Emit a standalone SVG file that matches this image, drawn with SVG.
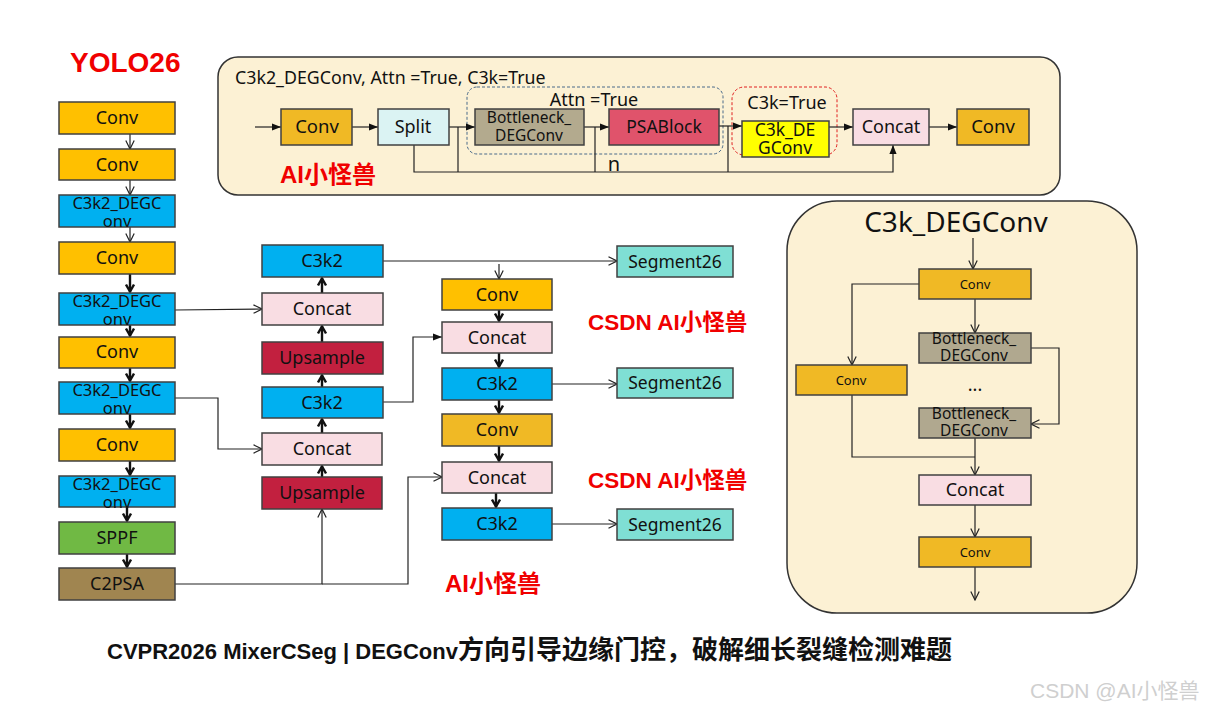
<svg xmlns="http://www.w3.org/2000/svg" width="1213" height="712" viewBox="0 0 1213 712">
<style>
.t{font-family:"Noto Sans","Liberation Sans","Noto Sans CJK SC",sans-serif;font-size:18px;fill:#111;text-anchor:middle}
.m{font-size:17.5px}
.w{font-size:16.5px}
.s{font-size:15px}
.xs{font-size:13px}
.b{stroke:#404040;stroke-width:1.5}
.conv{fill:#FFC000}
.conv2{fill:#F0B925}
.blue{fill:#00B0F0}
.pink{fill:#F9DDE3}
.ups{fill:#C2203F}
.seg{fill:#7FDFD4}
.bot{fill:#B3AA8E}
.red{font-family:"Liberation Sans","Noto Sans CJK SC",sans-serif;font-weight:bold;fill:#F00000}
.ln{fill:none;stroke:#222;stroke-width:1.2}
.lt{fill:none;stroke:#111;stroke-width:2.4}
.panel{fill:#FCF1D4;stroke:#333;stroke-width:1.5}
</style>
<defs>
<marker id="ao" viewBox="0 0 10 10" refX="9.5" refY="5" markerWidth="10" markerHeight="10" markerUnits="userSpaceOnUse" orient="auto"><path d="M1,0.8 L9.5,5 L1,9.2" fill="none" stroke="#222" stroke-width="1.2"/></marker>
<marker id="at" viewBox="0 0 10 10" refX="9" refY="5" markerWidth="10" markerHeight="10" markerUnits="userSpaceOnUse" orient="auto"><path d="M1.5,1 L8.5,5 L1.5,9" fill="none" stroke="#111" stroke-width="2.4"/></marker>
<marker id="af" viewBox="0 0 10 10" refX="10" refY="5" markerWidth="9" markerHeight="9" markerUnits="userSpaceOnUse" orient="auto"><path d="M0,1 L10,5 L0,9Z" fill="#111"/></marker>
</defs>
<rect width="1213" height="712" fill="#fff"/>

<!-- panels -->
<rect class="panel" x="218" y="57" width="842" height="138" rx="20"/>
<rect class="panel" x="787" y="201" width="350" height="412" rx="50"/>
<rect x="467" y="87" width="256" height="67" rx="10" fill="none" stroke="#4A6A8A" stroke-width="1" stroke-dasharray="3,2"/>
<rect x="732" y="87" width="105" height="68" rx="12" fill="none" stroke="#E02020" stroke-width="1" stroke-dasharray="3,2"/>

<!-- texts -->
<text class="red" x="70" y="72" font-size="28">YOLO26</text>
<text class="t m" x="235" y="84" style="text-anchor:start;font-size:17.8px">C3k2_DEGConv, Attn =True, C3k=True</text>
<text class="t" x="594" y="106">Attn =True</text>
<text class="t" x="787" y="109">C3k=True</text>
<text class="t" x="614" y="171" style="font-size:20px">n</text>
<text class="red" x="280" y="183" font-size="24">AI小怪兽</text>
<text class="red" x="588" y="330" font-size="22.5">CSDN AI小怪兽</text>
<text class="red" x="588" y="488" font-size="22.5">CSDN AI小怪兽</text>
<text class="red" x="445" y="592" font-size="24">AI小怪兽</text>
<text class="t" x="956" y="232" style="font-size:28px">C3k_DEGConv</text>
<text class="t" x="975" y="391">...</text>
<text x="107" y="659" font-family="Liberation Sans,Noto Sans CJK SC,sans-serif" font-weight="bold" font-size="22" fill="#111">CVPR2026 MixerCSeg | DEGConv<tspan font-family="Noto Sans CJK SC,sans-serif" font-size="26">方向引导边缘门控，破解细长裂缝检测难题</tspan></text>
<text x="1030" y="698" font-family="Liberation Sans,Noto Sans CJK SC,sans-serif" font-size="21" fill="#CFCFCF">CSDN @AI小怪兽</text>

<!-- connectors -->
<g id="connectors">
<!-- left column -->
<line class="ln" x1="130" y1="134" x2="130" y2="149" marker-end="url(#ao)"/>
<line class="ln" x1="130" y1="180" x2="130" y2="195" marker-end="url(#ao)"/>
<line class="ln" x1="130" y1="227" x2="130" y2="242" marker-end="url(#ao)"/>
<line class="lt" x1="130" y1="274" x2="130" y2="292" marker-end="url(#at)"/>
<line class="lt" x1="130" y1="325" x2="130" y2="336" marker-end="url(#at)"/>
<line class="lt" x1="130" y1="368" x2="130" y2="381" marker-end="url(#at)"/>
<line class="lt" x1="130" y1="414" x2="130" y2="428" marker-end="url(#at)"/>
<line class="lt" x1="130" y1="461" x2="130" y2="475" marker-end="url(#at)"/>
<line class="lt" x1="127" y1="507" x2="127" y2="521" marker-end="url(#at)"/>
<line class="lt" x1="127" y1="554" x2="127" y2="567" marker-end="url(#at)"/>
<!-- left to middle -->
<polyline class="ln" points="175,310 262,309" marker-end="url(#ao)"/>
<polyline class="ln" points="175,398 218,398 218,449 262,449" marker-end="url(#ao)"/>
<polyline class="ln" points="175,584 322,584 322,509" marker-end="url(#ao)"/>
<polyline class="ln" points="322,584 408,584 408,477 442,477" marker-end="url(#ao)"/>
<!-- middle up -->
<line class="lt" x1="322" y1="477" x2="322" y2="466" marker-end="url(#at)"/>
<line class="lt" x1="322" y1="433" x2="322" y2="419" marker-end="url(#at)"/>
<line class="lt" x1="322" y1="387" x2="322" y2="375" marker-end="url(#at)"/>
<line class="lt" x1="322" y1="342" x2="322" y2="326" marker-end="url(#at)"/>
<line class="lt" x1="322" y1="293" x2="322" y2="278" marker-end="url(#at)"/>
<polyline class="ln" points="383,261 617,261" marker-end="url(#ao)"/>
<line class="ln" x1="499" y1="264" x2="499" y2="279" marker-end="url(#ao)"/>
<polyline class="ln" points="383,402 413,402 413,337 442,337" marker-end="url(#af)"/>
<!-- right column -->
<line class="lt" x1="499" y1="310" x2="499" y2="321" marker-end="url(#at)"/>
<line class="lt" x1="499" y1="353" x2="499" y2="367" marker-end="url(#at)"/>
<line class="lt" x1="499" y1="400" x2="499" y2="413" marker-end="url(#at)"/>
<line class="lt" x1="499" y1="446" x2="499" y2="461" marker-end="url(#at)"/>
<line class="lt" x1="496" y1="493" x2="496" y2="507" marker-end="url(#at)"/>
<line class="ln" x1="552" y1="384" x2="617" y2="384" marker-end="url(#ao)"/>
<line class="ln" x1="552" y1="524" x2="617" y2="524" marker-end="url(#ao)"/>
<!-- top panel -->
<line class="ln" x1="255" y1="127" x2="281" y2="127" marker-end="url(#af)"/>
<line class="ln" x1="352" y1="127" x2="378" y2="127" marker-end="url(#af)"/>
<line class="ln" x1="449" y1="127" x2="475" y2="127" marker-end="url(#af)"/>
<line class="ln" x1="584" y1="127" x2="609" y2="127" marker-end="url(#af)"/>
<line class="ln" x1="719" y1="126" x2="742" y2="126" marker-end="url(#af)"/>
<line class="ln" x1="829" y1="127" x2="853" y2="127" marker-end="url(#af)"/>
<line class="ln" x1="929" y1="127" x2="957" y2="127" marker-end="url(#af)"/>
<polyline class="ln" points="414,145 414,172 893,172 893,145" marker-end="url(#af)"/>
<line class="ln" x1="458" y1="127" x2="458" y2="172"/>
<line class="ln" x1="595" y1="127" x2="595" y2="172"/>
<line class="ln" x1="728" y1="126" x2="728" y2="172"/>
<!-- right panel -->
<line class="ln" x1="973" y1="238" x2="973" y2="269" marker-end="url(#ao)"/>
<polyline class="ln" points="919,284 852,284 852,365" marker-end="url(#ao)"/>
<line class="ln" x1="975" y1="299" x2="975" y2="333" marker-end="url(#ao)"/>
<polyline class="ln" points="1031,348 1059,348 1059,424 1031,424" marker-end="url(#ao)"/>
<polyline class="ln" points="852,395 852,457 975,457"/>
<line class="ln" x1="975" y1="438" x2="975" y2="475" marker-end="url(#ao)"/>
<line class="ln" x1="975" y1="505" x2="975" y2="537" marker-end="url(#ao)"/>
<line class="ln" x1="975" y1="567" x2="975" y2="600" marker-end="url(#ao)"/>
</g>

<!-- left column nodes -->
<g id="l1"><rect class="b conv" x="59" y="102" width="116" height="32"/><text class="t" x="117" y="124">Conv</text></g>
<g id="l2"><rect class="b conv" x="59" y="149" width="116" height="31"/><text class="t" x="117" y="171">Conv</text></g>
<g id="l3"><rect class="b blue" x="59" y="195" width="116" height="32"/><text class="t w" x="117" y="209">C3k2_DEGC</text><text class="t w" x="117" y="227">onv</text></g>
<g id="l4"><rect class="b conv" x="59" y="242" width="116" height="32"/><text class="t" x="117" y="264">Conv</text></g>
<g id="l5"><rect class="b blue" x="59" y="293" width="116" height="32"/><text class="t w" x="117" y="307">C3k2_DEGC</text><text class="t w" x="117" y="325">onv</text></g>
<g id="l6"><rect class="b conv" x="59" y="337" width="116" height="31"/><text class="t" x="117" y="358">Conv</text></g>
<g id="l7"><rect class="b blue" x="59" y="382" width="116" height="32"/><text class="t w" x="117" y="396">C3k2_DEGC</text><text class="t w" x="117" y="414">onv</text></g>
<g id="l8"><rect class="b conv" x="59" y="429" width="116" height="32"/><text class="t" x="117" y="451">Conv</text></g>
<g id="l9"><rect class="b blue" x="59" y="476" width="116" height="31"/><text class="t w" x="117" y="490">C3k2_DEGC</text><text class="t w" x="117" y="508">onv</text></g>
<g id="l10"><rect class="b" fill="#70B944" x="59" y="522" width="116" height="32"/><text class="t" x="117" y="544">SPPF</text></g>
<g id="l11"><rect class="b" fill="#A08550" x="59" y="568" width="116" height="32"/><text class="t" x="117" y="590">C2PSA</text></g>

<!-- middle column -->
<g id="m1"><rect class="b blue" x="262" y="245" width="121" height="32"/><text class="t" x="322" y="267">C3k2</text></g>
<g id="m2"><rect class="b pink" x="262" y="293" width="121" height="32"/><text class="t" x="322" y="315">Concat</text></g>
<g id="m3"><rect class="b ups" x="262" y="342" width="121" height="32"/><text class="t" x="322" y="364">Upsample</text></g>
<g id="m4"><rect class="b blue" x="262" y="387" width="121" height="31"/><text class="t" x="322" y="409">C3k2</text></g>
<g id="m5"><rect class="b pink" x="262" y="433" width="120" height="32"/><text class="t" x="322" y="455">Concat</text></g>
<g id="m6"><rect class="b ups" x="262" y="477" width="120" height="32"/><text class="t" x="322" y="499">Upsample</text></g>

<!-- right column -->
<g id="r1"><rect class="b conv" x="442" y="279" width="110" height="31"/><text class="t" x="497" y="301">Conv</text></g>
<g id="r2"><rect class="b pink" x="442" y="322" width="110" height="31"/><text class="t" x="497" y="344">Concat</text></g>
<g id="r3"><rect class="b blue" x="442" y="368" width="110" height="32"/><text class="t" x="497" y="390">C3k2</text></g>
<g id="r4"><rect class="b conv2" x="442" y="414" width="110" height="32"/><text class="t" x="497" y="436">Conv</text></g>
<g id="r5"><rect class="b pink" x="442" y="462" width="110" height="31"/><text class="t" x="497" y="484">Concat</text></g>
<g id="r6"><rect class="b blue" x="442" y="508" width="110" height="32"/><text class="t" x="497" y="530">C3k2</text></g>

<!-- segment heads -->
<g id="s1"><rect class="b seg" x="617" y="246" width="116" height="31"/><text class="t m" x="675" y="268">Segment26</text></g>
<g id="s2"><rect class="b seg" x="617" y="368" width="116" height="30"/><text class="t m" x="675" y="389">Segment26</text></g>
<g id="s3"><rect class="b seg" x="617" y="509" width="116" height="31"/><text class="t m" x="675" y="531">Segment26</text></g>

<!-- top panel nodes -->
<g id="t1"><rect class="b conv2" x="281" y="109" width="71" height="36"/><text class="t" x="317" y="133" style="font-size:18.5px">Conv</text></g>
<g id="t2"><rect class="b" fill="#DBF3F3" x="378" y="109" width="71" height="36"/><text class="t" x="413" y="133">Split</text></g>
<g id="t3"><rect class="b bot" x="475" y="109" width="109" height="36"/><text class="t" x="529" y="123" style="font-size:15.5px">Bottleneck_</text><text class="t" x="529" y="141" style="font-size:15.5px">DEGConv</text></g>
<g id="t4"><rect class="b" fill="#E0536B" x="609" y="109" width="110" height="36"/><text class="t m" x="664" y="133">PSABlock</text></g>
<g id="t5"><rect class="b" fill="#FFFF00" x="742" y="121" width="87" height="36"/><text class="t m" x="785" y="136">C3k_DE</text><text class="t m" x="785" y="154">GConv</text></g>
<g id="t6"><rect class="b pink" x="853" y="109" width="76" height="36"/><text class="t" x="891" y="133">Concat</text></g>
<g id="t7"><rect class="b conv2" x="957" y="109" width="72" height="36"/><text class="t" x="993" y="133" style="font-size:18.5px">Conv</text></g>

<!-- right panel nodes -->
<g id="p1"><rect class="b conv2" x="919" y="269" width="112" height="30"/><text class="t xs" x="975" y="289">Conv</text></g>
<g id="p2"><rect class="b conv2" x="796" y="365" width="111" height="30"/><text class="t xs" x="851" y="385">Conv</text></g>
<g id="p3"><rect class="b" fill="#B0A88F" x="919" y="333" width="112" height="30"/><text class="t" x="974" y="344" style="font-size:15.5px">Bottleneck_</text><text class="t" x="974" y="361" style="font-size:15.5px">DEGConv</text></g>
<g id="p4"><rect class="b" fill="#B0A88F" x="919" y="408" width="112" height="30"/><text class="t" x="974" y="419" style="font-size:15.5px">Bottleneck_</text><text class="t" x="974" y="436" style="font-size:15.5px">DEGConv</text></g>
<g id="p5"><rect class="b pink" x="919" y="475" width="112" height="30"/><text class="t" x="975" y="496">Concat</text></g>
<g id="p6"><rect class="b conv2" x="919" y="537" width="112" height="30"/><text class="t xs" x="975" y="557">Conv</text></g>
</svg>
